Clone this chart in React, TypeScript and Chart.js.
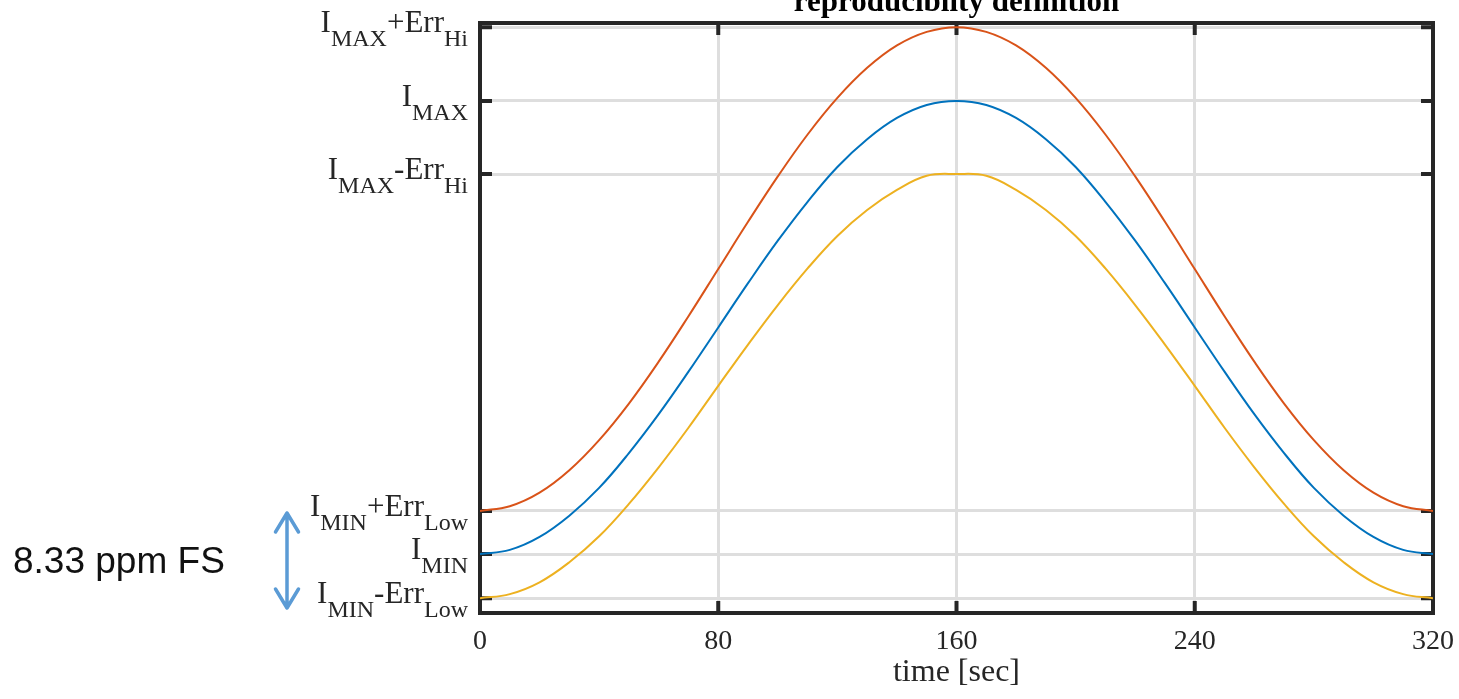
import React, { useEffect, useRef } from 'react';
import { Chart, registerables } from 'chart.js';

Chart.register(...registerables);

// time axis samples [sec]
const TIME = [0, 10, 20, 30, 40, 50, 60, 70, 80, 90, 100, 110, 120, 130, 140, 150, 160,
  170, 180, 190, 200, 210, 220, 230, 240, 250, 260, 270, 280, 290, 300, 310, 320];

// I_MIN+Err_Low -> I_MAX+Err_Hi (orange)
const UPPER = [17.3, 18.1, 20.4, 24.2, 29.3, 35.5, 42.6, 50.3, 58.3, 66.3, 74.0, 81.1, 87.3, 92.4, 96.2, 98.5, 99.3,
  98.5, 96.2, 92.4, 87.3, 81.1, 74.0, 66.3, 58.3, 50.3, 42.6, 35.5, 29.3, 24.2, 20.4, 18.1, 17.3];

// I_MIN -> I_MAX (blue)
const NOMINAL = [10.0, 10.7, 12.9, 16.5, 21.2, 27.1, 33.7, 40.9, 48.4, 55.9, 63.1, 69.7, 75.6, 80.3, 83.9, 86.1, 86.8,
  86.1, 83.9, 80.3, 75.6, 69.7, 63.1, 55.9, 48.4, 40.9, 33.7, 27.1, 21.2, 16.5, 12.9, 10.7, 10.0];

// I_MIN-Err_Low -> I_MAX-Err_Hi (yellow)
const LOWER = [2.5, 3.2, 5.2, 8.6, 13.0, 18.5, 24.7, 31.4, 38.5, 45.5, 52.2, 58.4, 63.9, 68.3, 71.7, 74.1, 74.4,
  74.1, 71.7, 68.3, 63.9, 58.4, 52.2, 45.5, 38.5, 31.4, 24.7, 18.5, 13.0, 8.6, 5.2, 3.2, 2.5];

const X_TICKS = [0, 80, 160, 240, 320];
const Y_TICKS = [2.5, 10, 17.3, 74.4, 86.8, 99.3];
// label parts: [text, 'm' main | 's' subscript]
const Y_TICK_LABELS: [string, string][][] = [
  [['I', 'm'], ['MIN', 's'], ['-Err', 'm'], ['Low', 's']],
  [['I', 'm'], ['MIN', 's']],
  [['I', 'm'], ['MIN', 's'], ['+Err', 'm'], ['Low', 's']],
  [['I', 'm'], ['MAX', 's'], ['-Err', 'm'], ['Hi', 's']],
  [['I', 'm'], ['MAX', 's']],
  [['I', 'm'], ['MAX', 's'], ['+Err', 'm'], ['Hi', 's']],
];

const TITLE = 'reproducibilty definition';
const X_LABEL = 'time [sec]';
const NOTE = '8.33 ppm FS';

const SERIF = "'Liberation Serif', 'Times New Roman', serif";
const AXIS_COLOR = '#262626';

const decorPlugin = {
  id: 'decor',
  beforeDatasetsDraw(chart: any) {
    const { ctx, chartArea: a, scales } = chart;
    ctx.save();
    ctx.strokeStyle = AXIS_COLOR;
    ctx.lineWidth = 4;
    ctx.lineCap = 'butt';
    const tl = 12;
    ctx.beginPath();
    X_TICKS.forEach((v) => {
      const x = scales.x.getPixelForValue(v);
      ctx.moveTo(x, a.bottom); ctx.lineTo(x, a.bottom - tl);
      ctx.moveTo(x, a.top); ctx.lineTo(x, a.top + tl);
    });
    Y_TICKS.forEach((v) => {
      const y = scales.y.getPixelForValue(v);
      ctx.moveTo(a.left, y); ctx.lineTo(a.left + tl, y);
      ctx.moveTo(a.right, y); ctx.lineTo(a.right - tl, y);
    });
    ctx.stroke();
    ctx.strokeRect(a.left, a.top, a.right - a.left, a.bottom - a.top);
    ctx.restore();
  },
  afterDraw(chart: any) {
    const { ctx, chartArea: a, scales } = chart;
    ctx.save();
    ctx.fillStyle = AXIS_COLOR;
    // x tick labels
    ctx.font = `28px ${SERIF}`;
    ctx.textAlign = 'center';
    ctx.textBaseline = 'alphabetic';
    X_TICKS.forEach((v) => {
      ctx.fillText(String(v), scales.x.getPixelForValue(v), 649);
    });
    // x label
    ctx.font = `32px ${SERIF}`;
    ctx.fillText(X_LABEL, (a.left + a.right) / 2, 681);
    // title
    ctx.fillStyle = '#000';
    ctx.font = `bold 31px ${SERIF}`;
    ctx.fillText(TITLE, (a.left + a.right) / 2, 11);
    // y tick labels with subscripts
    ctx.fillStyle = AXIS_COLOR;
    ctx.textAlign = 'left';
    const mainFont = `31px ${SERIF}`;
    const subFont = `24px ${SERIF}`;
    Y_TICKS.forEach((v, i) => {
      const y = scales.y.getPixelForValue(v);
      const parts = Y_TICK_LABELS[i];
      let total = 0;
      const widths = parts.map(([t, k]) => {
        ctx.font = k === 'm' ? mainFont : subFont;
        const w = ctx.measureText(t).width;
        total += w;
        return w;
      });
      let x = a.left - 12 - total;
      parts.forEach(([t, k], j) => {
        ctx.font = k === 'm' ? mainFont : subFont;
        ctx.fillText(t, x, k === 'm' ? y + 5 : y + 19);
        x += widths[j];
      });
    });
    // annotation text
    ctx.fillStyle = '#111';
    ctx.font = "37px 'Liberation Sans', Arial, sans-serif";
    ctx.fillText(NOTE, 13, 573);
    // double arrow
    const ax = 287, top = 513, bot = 608, hw = 11.5, hl = 19;
    ctx.strokeStyle = '#5B9BD5';
    ctx.lineWidth = 3.5;
    ctx.lineCap = 'round';
    ctx.lineJoin = 'round';
    ctx.beginPath();
    ctx.moveTo(ax, top); ctx.lineTo(ax, bot);
    ctx.moveTo(ax - hw, top + hl); ctx.lineTo(ax, top); ctx.lineTo(ax + hw, top + hl);
    ctx.moveTo(ax - hw, bot - hl); ctx.lineTo(ax, bot); ctx.lineTo(ax + hw, bot - hl);
    ctx.stroke();
    ctx.restore();
  },
};

export default function App() {
  const ref = useRef<HTMLCanvasElement>(null);
  useEffect(() => {
    if (!ref.current) return;
    const mk = (arr: number[]) => TIME.map((t, i) => ({ x: t, y: arr[i] }));
    const ds = (label: string, arr: number[], color: string) => ({
      label,
      data: mk(arr),
      borderColor: color,
      backgroundColor: color,
      borderWidth: 2,
      pointRadius: 0,
      tension: 0.4,
      fill: false,
    });
    const chart = new Chart(ref.current, {
      type: 'line',
      data: {
        datasets: [
          ds('I_MIN-Err_Low', LOWER, '#EDB120'),
          ds('I_MIN+Err_Low', UPPER, '#D95319'),
          ds('I_MIN', NOMINAL, '#0072BD'),
        ],
      },
      options: {
        responsive: false,
        animation: false,
        devicePixelRatio: 1,
        layout: { padding: { left: 480, top: 23, right: 26, bottom: 86 } },
        plugins: { legend: { display: false }, tooltip: { enabled: false }, title: { display: false } },
        scales: {
          x: {
            type: 'linear',
            min: 0,
            max: 320,
            afterBuildTicks: (s: any) => { s.ticks = X_TICKS.map((v) => ({ value: v })); },
            ticks: { display: false },
            grid: { color: '#dedede', lineWidth: 3, drawTicks: false },
            border: { display: false },
          },
          y: {
            type: 'linear',
            min: 0,
            max: 100,
            afterBuildTicks: (s: any) => { s.ticks = Y_TICKS.map((v) => ({ value: v })); },
            ticks: { display: false },
            grid: { color: '#dedede', lineWidth: 3, drawTicks: false },
            border: { display: false },
          },
        },
      },
      plugins: [decorPlugin],
    });
    return () => chart.destroy();
  }, []);
  return (
    <div style={{ position: 'fixed', left: 0, top: 0, width: 1459, height: 699, background: '#fff' }}>
      <canvas ref={ref} width={1459} height={699} style={{ display: 'block' }} />
    </div>
  );
}
